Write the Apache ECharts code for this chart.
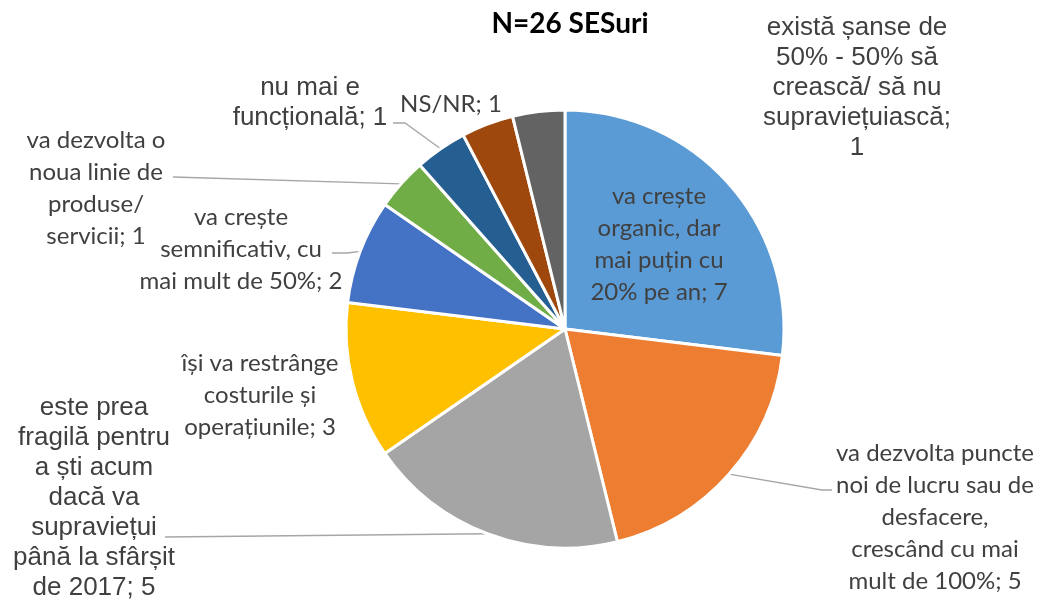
<!DOCTYPE html>
<html>
<head>
<meta charset="utf-8">
<script src="https://cdn.jsdelivr.net/npm/echarts@6/dist/echarts.min.js"></script>
<style>
html, body { margin: 0; padding: 0; background: #fff; }
#main { width: 1048px; height: 608px; }
</style>
</head>
<body>
<div id="main"></div>
<script>
const titleText = 'N=26 SESuri';

// categorii (în ordinea feliilor, în sensul acelor de ceas de sus)
const categories = [
	'va crește organic, dar mai puțin cu 20% pe an',
	'va dezvolta puncte noi de lucru sau de desfacere, crescând cu mai mult de 100%',
	'este prea fragilă pentru a ști acum dacă va supraviețui până la sfârșit de 2017',
	'își va restrânge costurile și operațiunile',
	'va crește semnificativ, cu mai mult de 50%',
	'va dezvolta o noua linie de produse/ servicii',
	'nu mai e funcțională',
	'NS/NR',
	'există șanse de 50% - 50% să crească/ să nu supraviețuiască'
];
const values = [7, 5, 5, 3, 2, 1, 1, 1, 1];

// textul etichetelor, rupt pe rânduri ca în original
const wrappedNames = [
	'va crește\norganic, dar\nmai puțin cu\n20% pe an',
	'va dezvolta puncte\nnoi de lucru sau de\ndesfacere,\ncrescând cu mai\nmult de 100%',
	'este prea\nfragilă pentru\na ști acum\ndacă va\nsupraviețui\npână la sfârșit\nde 2017',
	'își va restrânge\ncosturile și\noperațiunile',
	'va crește\nsemnificativ, cu\nmai mult de 50%',
	'va dezvolta o\nnoua linie de\nproduse/\nservicii',
	'nu mai e\nfuncțională',
	'NS/NR',
	'există șanse de\n50% - 50% să\ncrească/ să nu\nsupraviețuiască'
];
const valueSep = ['; ', '; ', '; ', '; ', '; ', '; ', '; ', '; ', ';\n'];

const colors = ['#5B9BD5', '#ED7D31', '#A5A5A5', '#FFC000', '#4472C4', '#70AD47', '#255E91', '#9E480E', '#636363'];

// poziția etichetelor (centrul blocului de text) și punctele liniilor de legătură
const labelPos = [
	{x: 659, y: 244},
	{x: 935, y: 517, line: [[822, 490], [832, 490]]},
	{x: 94, y: 498, line: [[165, 537]]},
	{x: 260, y: 395},
	{x: 241, y: 249, line: [[347, 253], [332, 253]]},
	{x: 96, y: 188, line: [[173, 177]]},
	{x: 310, y: 103, line: [[405, 123], [393, 123]]},
	{x: 451, y: 104},
	{x: 857, y: 88}
];
const calibri = {fontFamily: 'Lato', fontSize: 24, lineHeight: 32};
const arial = {fontFamily: '"Liberation Sans", Arial', fontSize: 26, lineHeight: 30};
const labelFont = [calibri, calibri, arial, calibri, calibri, calibri, arial, calibri, arial];

const chart = echarts.init(document.getElementById('main'));

let data = [];
for (let i = 0; i < values.length; i++) {
	data.push({
		name: categories[i],
		value: values[i],
		itemStyle: {color: colors[i]},
		label: Object.assign({color: '#404040'}, labelFont[i]),
		labelLine: {show: !!labelPos[i].line}
	});
}

const option = {
	animation: false,
	title: {
		text: titleText,
		left: 565,
		textAlign: 'center',
		top: 5,
		textStyle: {
			fontFamily: 'Lato',
			fontWeight: 'bold',
			fontSize: 28,
			color: '#000'
		}
	},
	series: [{
		type: 'pie',
		center: [565, 329],
		radius: 219,
		startAngle: 90,
		clockwise: true,
		avoidLabelOverlap: false,
		itemStyle: {
			borderColor: '#fff',
			borderWidth: 3
		},
		label: {
			show: true,
			position: 'outside',
			formatter: function(p) {
				return wrappedNames[p.dataIndex] + valueSep[p.dataIndex] + p.value;
			}
		},
		labelLine: {
			lineStyle: {color: '#A6A6A6', width: 1.3}
		},
		labelLayout: function(params) {
			const p = labelPos[params.dataIndex];
			let res = {x: p.x, y: p.y, align: 'center', verticalAlign: 'middle'};
			if (p.line && params.labelLinePoints) {
				res.labelLinePoints = [params.labelLinePoints[0]].concat(p.line);
			}
			return res;
		},
		data: data
	}]
};
chart.setOption(option);
</script>
</body>
</html>
